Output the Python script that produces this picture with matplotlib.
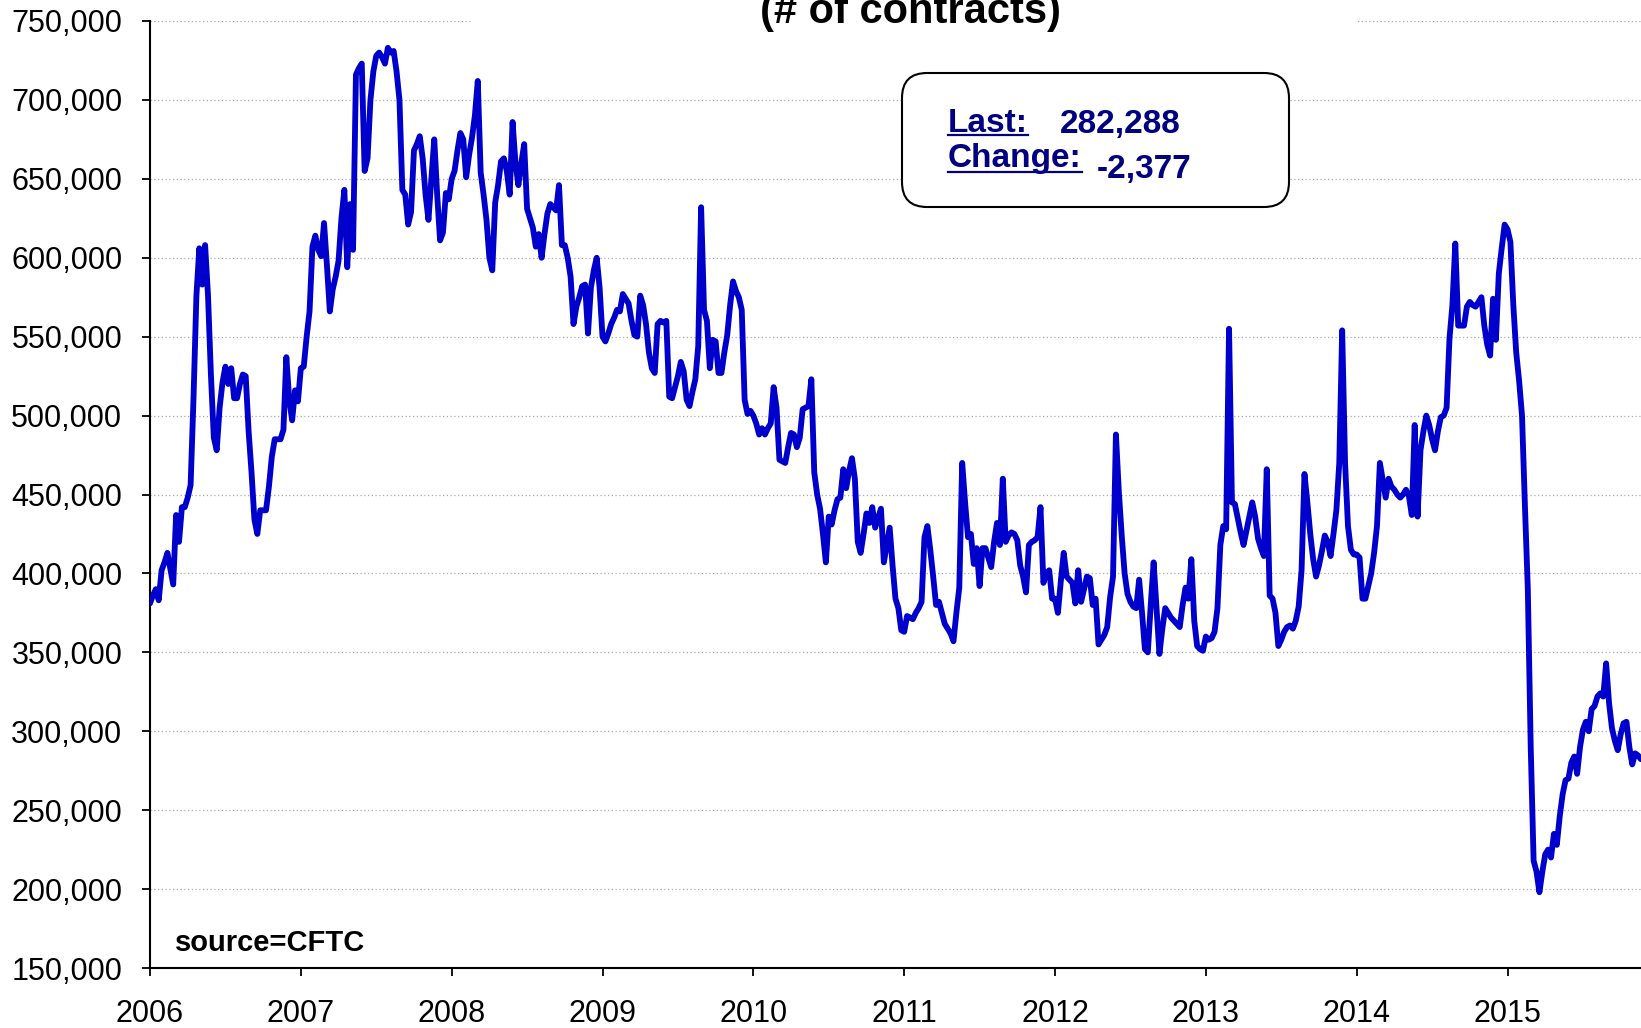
import numpy as np
import matplotlib
matplotlib.use('Agg')
import matplotlib.pyplot as plt
from matplotlib.patches import FancyBboxPatch, Rectangle
from matplotlib.lines import Line2D
from matplotlib.ticker import FuncFormatter, FixedLocator

plt.rcParams['font.family'] = ['Liberation Sans', 'DejaVu Sans']

# weekly open interest, thousands of contracts, one list per year
years = list(range(2006, 2016))
oi_2006 = [381, 386, 390, 383, 402, 407, 413, 403, 393, 437,
           420, 442, 442, 448, 456, 511, 576, 606, 583, 608,
           576, 526, 486, 478, 505, 521, 531, 520, 530, 511,
           511, 520, 526, 525, 490, 464, 434, 425, 440, 440,
           440, 455, 474, 485, 485, 485, 491, 537, 510, 497,
           516, 509]
oi_2007 = [530, 531, 550, 566, 607, 614, 605, 601, 622, 595,
           566, 580, 588, 598, 625, 643, 594, 634, 605, 716,
           720, 723, 655, 663, 700, 718, 728, 730, 727, 723,
           733, 730, 731, 718, 700, 643, 640, 621, 629, 668,
           672, 677, 663, 640, 624, 650, 675, 640, 611, 616,
           641, 637]
oi_2008 = [650, 655, 668, 679, 675, 651, 665, 676, 690, 712,
           654, 640, 624, 600, 592, 635, 646, 661, 663, 655,
           640, 686, 660, 646, 660, 672, 631, 625, 619, 607,
           615, 600, 615, 628, 634, 632, 630, 646, 608, 608,
           600, 588, 558, 569, 575, 582, 583, 552, 581, 592,
           600, 581]
oi_2009 = [550, 547, 552, 558, 562, 567, 566, 577, 574, 571,
           560, 551, 550, 576, 570, 558, 540, 530, 527, 558,
           560, 559, 560, 512, 511, 518, 525, 534, 528, 510,
           506, 515, 523, 544, 632, 567, 560, 530, 548, 547,
           527, 527, 540, 551, 570, 585, 579, 575, 567, 510,
           501, 503]
oi_2010 = [500, 495, 488, 492, 488, 492, 495, 518, 505, 472,
           471, 470, 480, 489, 488, 480, 486, 504, 505, 506,
           523, 464, 450, 441, 425, 407, 436, 431, 440, 447,
           448, 466, 454, 465, 473, 460, 420, 413, 425, 438,
           432, 442, 429, 435, 441, 407, 418, 429, 405, 384,
           378, 364]
oi_2011 = [363, 373, 372, 371, 375, 378, 382, 423, 430, 415,
           398, 380, 382, 375, 368, 365, 362, 357, 375, 391,
           470, 445, 423, 425, 406, 416, 392, 416, 416, 410,
           404, 420, 432, 418, 460, 420, 424, 426, 425, 421,
           405, 398, 388, 418, 420, 421, 423, 442, 394, 400,
           402, 384]
oi_2012 = [384, 375, 395, 413, 398, 396, 394, 381, 402, 382,
           390, 398, 397, 380, 384, 355, 358, 361, 366, 385,
           398, 488, 452, 424, 400, 387, 382, 379, 378, 396,
           375, 352, 350, 380, 407, 378, 349, 365, 378, 375,
           372, 370, 368, 366, 380, 391, 384, 409, 370, 354,
           352, 351]
oi_2013 = [360, 358, 359, 363, 378, 418, 430, 428, 555, 445,
           444, 435, 426, 418, 427, 436, 445, 436, 422, 416,
           411, 466, 386, 384, 375, 354, 358, 363, 366, 367,
           365, 370, 379, 402, 463, 445, 425, 409, 398, 405,
           414, 424, 420, 411, 425, 440, 470, 554, 470, 430,
           415, 412]
oi_2014 = [412, 410, 384, 384, 392, 400, 413, 430, 470, 459,
           448, 460, 455, 453, 450, 448, 450, 453, 449, 437,
           494, 436, 478, 490, 500, 494, 485, 478, 490, 499,
           500, 505, 549, 570, 609, 557, 557, 557, 569, 572,
           570, 569, 572, 575, 557, 545, 538, 574, 548, 590,
           606, 621]
oi_2015 = [618, 610, 570, 540, 522, 500, 443, 390, 290, 218,
           211, 198, 211, 222, 225, 220, 235, 228, 246, 260,
           269, 270, 280, 284, 273, 290, 301, 306, 300, 314,
           316, 322, 324, 322, 343, 318, 302, 294, 288, 298,
           305, 306, 290, 279, 286, 284.665, 282.288]

weekly = [oi_2006, oi_2007, oi_2008, oi_2009, oi_2010,
          oi_2011, oi_2012, oi_2013, oi_2014, oi_2015]

title = '(# of contracts)'
last_value = 282288
change_value = -2377
source = 'source=CFTC'

x = np.concatenate([yr + np.arange(len(v)) / 52 for yr, v in zip(years, weekly)])
y = np.concatenate([np.array(v, dtype=float) for v in weekly]) * 1000

W, H = 1641, 1028
fig = plt.figure(figsize=(W / 100, H / 100), dpi=100)
ax = fig.add_axes([150 / W, 1 - 968 / H, 1 - 150 / W, (968 - 21) / H])

ax.plot(x, y, color='#0000CC', lw=4.2, solid_joinstyle='round',
        solid_capstyle='round', zorder=3)

ax.set_xlim(2006, 2015.885)
ax.set_ylim(150000, 750000)
ax.yaxis.set_major_locator(FixedLocator(np.arange(150000, 750001, 50000)))
ax.yaxis.set_major_formatter(FuncFormatter(lambda v, p: f'{v:,.0f}'))
ax.xaxis.set_major_locator(FixedLocator(years))
ax.xaxis.set_major_formatter(FuncFormatter(lambda v, p: f'{int(round(v))}'))

ax.yaxis.grid(True, linestyle=(0, (1, 2)), color='#aaaaaa', lw=0.9)
ax.set_axisbelow(True)
for s in ['top', 'right']:
    ax.spines[s].set_visible(False)
for s in ['left', 'bottom']:
    ax.spines[s].set_linewidth(1.5)
ax.tick_params(axis='both', direction='out', length=6, width=1.3, labelsize=22)
ax.tick_params(axis='y', pad=14)
ax.tick_params(axis='x', pad=16)

# title, mostly cut off at the top, sits on a white strip
fig.add_artist(Rectangle((471 / W, 1 - 30 / H), 886 / W, 30 / H,
                         transform=fig.transFigure, facecolor='white',
                         edgecolor='none', zorder=3))
fig.text(911 / W, 1 - 23 / H, title, ha='center', va='baseline',
         fontsize=30, fontweight='bold', zorder=4)

# last / change box
box = FancyBboxPatch((9.02, (H - 207) / 100), 3.87, 1.34,
                     boxstyle='round,pad=0,rounding_size=0.25',
                     transform=fig.dpi_scale_trans, facecolor='white',
                     edgecolor='black', lw=1.5, zorder=5)
fig.add_artist(box)
navy = '#000080'
tk = dict(fontsize=24, fontweight='bold', color=navy, va='baseline', zorder=6)
t_last = fig.text(948 / W, 1 - 132 / H, 'Last:', **tk)
fig.text(1060 / W, 1 - 133 / H, f'{last_value:,}', **tk)
t_chg = fig.text(948 / W, 1 - 167 / H, 'Change:', **tk)
fig.text(1097 / W, 1 - 178 / H, f'{change_value:,}', **tk)

fig.text(175 / W, 1 - 951 / H, source, fontsize=21, fontweight='bold',
         va='baseline')

# underline the two labels
fig.canvas.draw()
renderer = fig.canvas.get_renderer()
for t, base, off in [(t_last, 132, 3), (t_chg, 167, 5)]:
    bb = t.get_window_extent(renderer)
    yy = 1 - (base + off) / H
    fig.add_artist(Line2D([bb.x0 / W, bb.x1 / W], [yy, yy], transform=fig.transFigure,
                          color=navy, lw=1.6, zorder=6))

fig.savefig('out.png', dpi=100)
